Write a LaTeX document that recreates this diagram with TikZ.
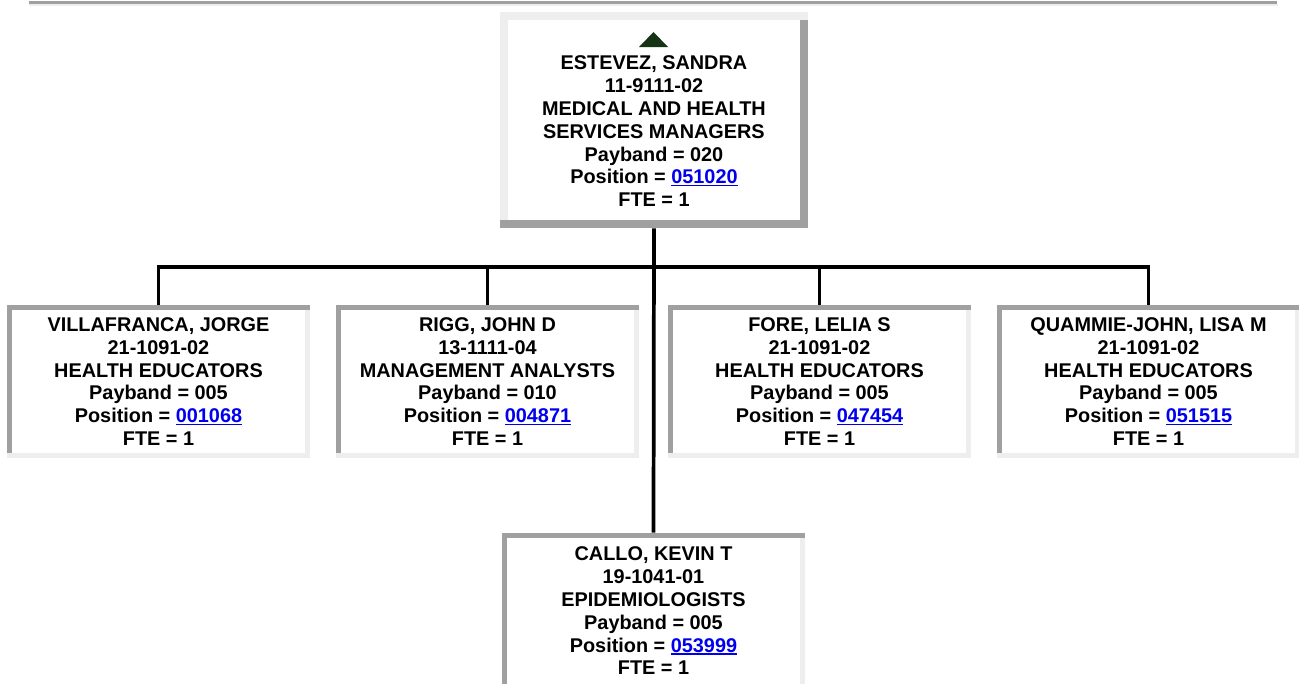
\documentclass[tikz,border=0pt]{standalone}
\usepackage{fontspec}
\setmainfont{Liberation Sans}
\usepackage{xcolor}
\usepackage{tikz}
\usetikzlibrary{positioning}

\definecolor{rimdark}{HTML}{A0A0A0}
\definecolor{rimlight}{HTML}{EEEEEE}
\definecolor{linkblue}{HTML}{0000EE}
\definecolor{pointer}{HTML}{143414}
\newcommand{\poslink}[1]{{\color{linkblue}\setbox0\hbox{#1}\rlap{\rule[-1.8pt]{\wd0}{1.1pt}}\box0}}

\begin{document}
\begin{tikzpicture}[
  x=0.75pt, y=-0.75pt,
  card/.style={fill=white, inner sep=0pt, minimum width=227.25pt, minimum height=114.75pt,
               align=center, font=\fontsize{14.9}{17.1}\selectfont\bfseries},
  boss/.style={card, minimum width=231pt, minimum height=162pt},
  wire/.style={line width=2.8pt, black}
]
  \useasboundingbox (0,0) rectangle (1299,683);

  % Rule
  \fill[rimdark] (29,1) rectangle (1277,4);
  \fill[rimlight] (29,4) rectangle (1278,5.5);

  % Nodes
  \node[boss] (chief) at (654,120) {\vphantom{E}\\ESTEVEZ, SANDRA\\11-9111-02\\MEDICAL AND HEALTH\\SERVICES MANAGERS\\Payband = 020\\Position = \poslink{051020}\\FTE = 1};
  \node[card] (villa) at (158.5,381.5) {VILLAFRANCA, JORGE\\21-1091-02\\HEALTH EDUCATORS\\Payband = 005\\Position = \poslink{001068}\\FTE = 1};
  \node[card] (rigg) at (487.5,381.5) {RIGG, JOHN D\\13-1111-04\\MANAGEMENT ANALYSTS\\Payband = 010\\Position = \poslink{004871}\\FTE = 1};
  \node[card] (fore) at (819.5,381.5) {FORE, LELIA S\\21-1091-02\\HEALTH EDUCATORS\\Payband = 005\\Position = \poslink{047454}\\FTE = 1};
  \node[card] (quammie) at (1148.5,381.5) {QUAMMIE-JOHN, LISA M\\21-1091-02\\HEALTH EDUCATORS\\Payband = 005\\Position = \poslink{051515}\\FTE = 1};
  \node[card, minimum height=117pt] (callo) at (653.5,611) {CALLO, KEVIN T\\19-1041-01\\EPIDEMIOLOGISTS\\Payband = 005\\Position = \poslink{053999}\\FTE = 1};
  \coordinate (bar) at (653.5,267);

  % Frames
  \fill[rimlight] (chief.north west) rectangle ([shift={(8,0)}]chief.south west);
  \fill[rimdark] ([shift={(-8,0)}]chief.north east) rectangle (chief.south east);
  \fill[rimdark] ([shift={(0,-8)}]chief.south west) rectangle (chief.south east);
  \fill[rimlight] (chief.north west) rectangle ([shift={(0,8)}]chief.north east);
  \foreach \n in {villa,rigg,fore,quammie,callo} {
    \fill[rimlight] ([shift={(-5,0)}]\n.north east) rectangle (\n.south east);
    \fill[rimdark] (\n.north west) rectangle ([shift={(5,0)}]\n.south west);
    \fill[rimlight] ([shift={(0,-5)}]\n.south west) rectangle (\n.south east);
    \fill[rimdark] (\n.north west) rectangle ([shift={(0,5)}]\n.north east);
  }
  \fill[pointer] (639,47) -- (653.5,32) -- (668,47) -- cycle;

  % Lines
  \draw[wire] (chief.south) -- (callo.north);
  \draw[wire] (villa.north) |- (bar) -| (quammie.north);
  \draw[wire] (rigg.north) -- (rigg.north |- bar);
  \draw[wire] (fore.north) -- (fore.north |- bar);
\end{tikzpicture}
\end{document}
